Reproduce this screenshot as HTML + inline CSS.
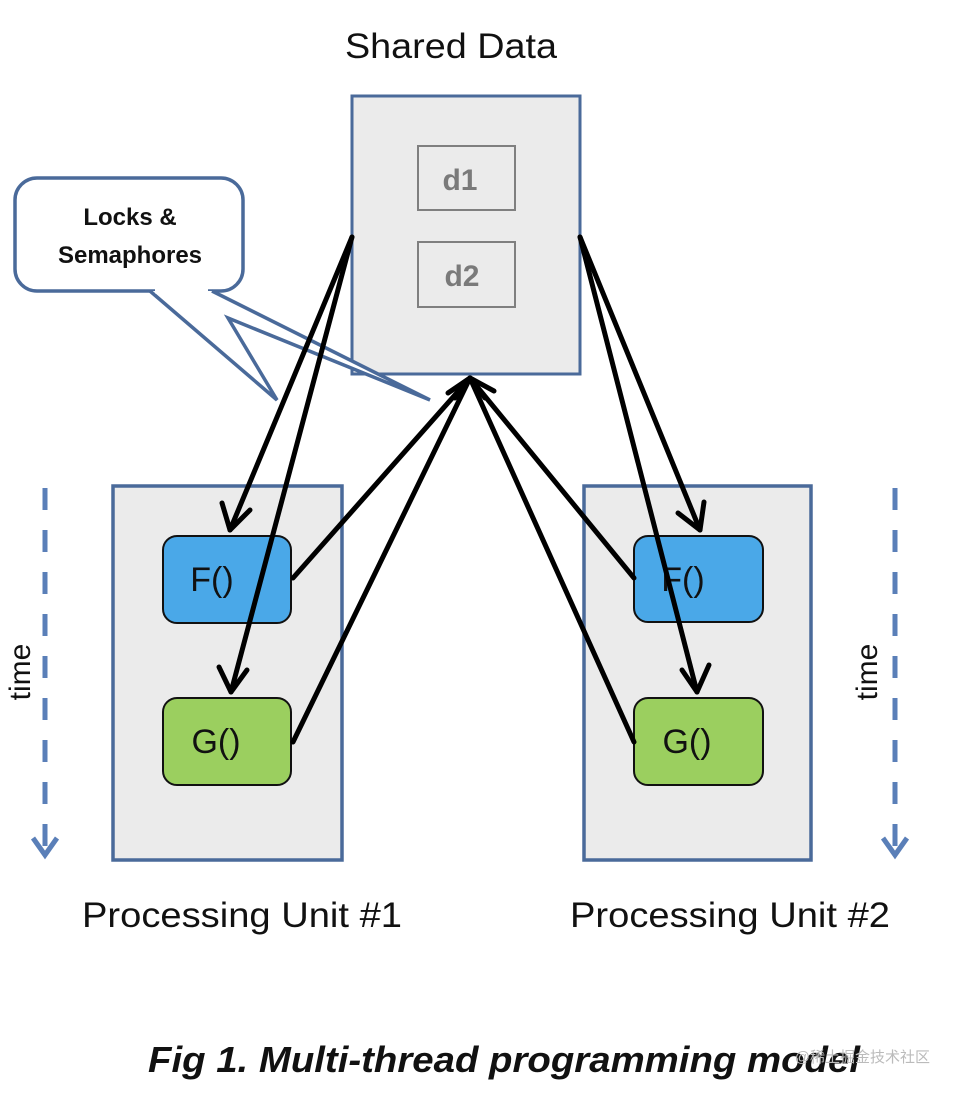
<!DOCTYPE html>
<html><head><style>body{margin:0;background:#fff}svg{display:block}</style></head><body>
<svg width="958" height="1096" viewBox="0 0 958 1096" xmlns="http://www.w3.org/2000/svg" font-family="Liberation Sans, sans-serif">
<text x="345" y="58" font-size="35" textLength="212" lengthAdjust="spacingAndGlyphs" fill="#111">Shared Data</text>
<rect x="352" y="96" width="228" height="278" fill="#ebebeb" stroke="#4a6a9a" stroke-width="3"/>
<rect x="418" y="146" width="97" height="64" fill="#ebebeb" stroke="#7f7f7f" stroke-width="2"/>
<rect x="418" y="242" width="97" height="65" fill="#ebebeb" stroke="#7f7f7f" stroke-width="2"/>
<text x="460" y="190" font-size="30" font-weight="bold" text-anchor="middle" fill="#7a7a7a">d1</text>
<text x="462" y="286" font-size="30" font-weight="bold" text-anchor="middle" fill="#7a7a7a">d2</text>
<rect x="15" y="178" width="228" height="113" rx="22" fill="#fff" stroke="#4a6a9a" stroke-width="3.5"/>
<polyline points="150,291 277,400 228,318 430,400 212,291" fill="#fff" stroke="#4a6a9a" stroke-width="3.5" stroke-linejoin="miter"/>
<line x1="155" y1="291" x2="208" y2="291" stroke="#fff" stroke-width="5"/>
<text x="130" y="225" font-size="24" font-weight="bold" text-anchor="middle" fill="#111">Locks &amp;</text>
<text x="130" y="263" font-size="24" font-weight="bold" text-anchor="middle" fill="#111">Semaphores</text>
<rect x="113" y="486" width="229" height="374" fill="#ebebeb" stroke="#4a6a9a" stroke-width="3.5"/>
<rect x="584" y="486" width="227" height="374" fill="#ebebeb" stroke="#4a6a9a" stroke-width="3.5"/>
<rect x="163" y="536" width="128" height="87" rx="14" fill="#4aa8e8" stroke="#111" stroke-width="2"/>
<rect x="163" y="698" width="128" height="87" rx="14" fill="#9bcf5f" stroke="#111" stroke-width="2"/>
<rect x="634" y="536" width="129" height="86" rx="14" fill="#4aa8e8" stroke="#111" stroke-width="2"/>
<rect x="634" y="698" width="129" height="87" rx="14" fill="#9bcf5f" stroke="#111" stroke-width="2"/>
<g font-size="34" fill="#111" text-anchor="middle">
<text x="212" y="591">F()</text><text x="216" y="753">G()</text>
<text x="683" y="591">F()</text><text x="687" y="753">G()</text>
</g>
<g stroke="#000" stroke-width="5" fill="none" stroke-linecap="round" stroke-linejoin="round">
<line x1="352" y1="237" x2="230" y2="530"/><polyline points="222,503 230,530 250,510"/>
<line x1="352" y1="237" x2="231" y2="692"/><polyline points="219,667 231,692 247,670"/>
<line x1="580" y1="237" x2="700" y2="530"/><polyline points="678,513 700,530 704,502"/>
<line x1="580" y1="237" x2="697" y2="692"/><polyline points="682,670 697,692 709,665"/>
<line x1="293" y1="578" x2="470" y2="378"/>
<line x1="293" y1="742" x2="470" y2="378"/>
<line x1="634" y1="578" x2="470" y2="378"/>
<line x1="634" y1="742" x2="470" y2="378"/>
<polyline points="448,393 470,378 494,391"/>
<polyline points="455,398 470,378 485,398"/>
</g>
<g stroke="#5a7fb8" stroke-width="5" fill="none">
<line x1="45" y1="488" x2="45" y2="852" stroke-dasharray="22,20"/>
<polyline points="33,838 45,855 57,838"/>
<line x1="895" y1="488" x2="895" y2="852" stroke-dasharray="22,20"/>
<polyline points="883,838 895,855 907,838"/>
</g>
<text transform="translate(30,672) rotate(-90)" font-size="30" text-anchor="middle" fill="#111">time</text>
<text transform="translate(877,672) rotate(-90)" font-size="30" text-anchor="middle" fill="#111">time</text>
<text x="82" y="927" font-size="35" textLength="320" lengthAdjust="spacingAndGlyphs" fill="#111">Processing Unit #1</text>
<text x="570" y="927" font-size="35" textLength="320" lengthAdjust="spacingAndGlyphs" fill="#111">Processing Unit #2</text>
<text x="148" y="1072" font-size="36" font-weight="bold" font-style="italic" textLength="712" lengthAdjust="spacingAndGlyphs" fill="#111">Fig 1. Multi-thread programming model</text>
<text x="930" y="1062" font-size="15" text-anchor="end" fill="#bbb" font-family="Liberation Sans, Noto Sans CJK SC, sans-serif">@稀土掘金技术社区</text>
</svg>
</body></html>
